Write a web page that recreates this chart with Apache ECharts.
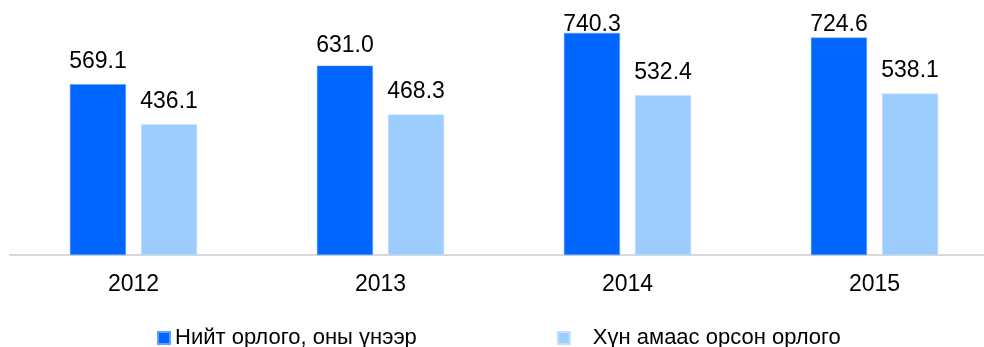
<!DOCTYPE html>
<html>
<head>
<meta charset="utf-8">
<script src="https://cdn.jsdelivr.net/npm/echarts@6/dist/echarts.min.js"></script>
<style>
  html, body { margin: 0; padding: 0; background: #fff; }
  #chart { width: 984px; height: 347px; }
</style>
</head>
<body>
<div id="chart"></div>
<script>
// Income per year (thousand tugrik)
const years = ['2012', '2013', '2014', '2015'];
const seriesNames = ['Нийт орлого, оны үнээр', 'Хүн амаас орсон орлого'];
const totalIncome = [569.1, 631.0, 740.3, 724.6];
const householdIncome = [436.1, 468.3, 532.4, 538.1];

const FONT = 'Liberation Sans, Arial, sans-serif';
const DARK = '#0066ff';
const LIGHT = '#9dcdff';

// labels of the taller bars sit closer to the bar top
const tightLabel = { 1: 9, 2: -3, 3: 1 };

function barData(values, tight) {
  return values.map((v, i) => {
    const item = { value: v };
    if (tight && tightLabel[i] !== undefined) {
      item.label = { distance: tightLabel[i] };
    }
    return item;
  });
}

const chart = echarts.init(document.getElementById('chart'), null, { renderer: 'canvas' });

chart.setOption({
  animation: false,
  backgroundColor: '#ffffff',
  textStyle: { fontFamily: FONT },
  // the plot runs a little past the right edge of the canvas
  grid: { left: 10, width: 988, top: 15, bottom: 92, containLabel: false, outerBoundsMode: 'none' },
  xAxis: {
    type: 'category',
    data: years,
    axisLine: { show: true, lineStyle: { color: '#d9d9d9', width: 2 } },
    axisTick: { show: false },
    axisLabel: { color: '#000', fontSize: 23, fontFamily: FONT, margin: 18 }
  },
  yAxis: {
    type: 'value',
    min: 0,
    max: 800,
    show: false,
    splitLine: { show: false }
  },
  legend: {
    bottom: -7,
    left: 152,
    itemWidth: 12,
    itemHeight: 12,
    itemGap: 140,
    icon: 'rect',
    textStyle: {
      color: '#000',
      fontSize: 22,
      fontFamily: FONT,
      rich: { p: { fontSize: 22, fontFamily: FONT, color: '#000', padding: [0, 0, 0, 18] } }
    },
    formatter: name => name === seriesNames[1] ? '{p|' + name + '}' : name,
    data: seriesNames
  },
  series: [
    {
      name: seriesNames[0],
      type: 'bar',
      data: barData(totalIncome, true),
      barWidth: 56,
      barGap: '27%',
      itemStyle: { color: DARK, borderColor: '#5fa0ff', borderWidth: 0.5 },
      label: {
        show: true,
        position: 'top',
        distance: 11,
        color: '#000',
        fontSize: 23,
        fontFamily: FONT,
        formatter: p => p.value.toFixed(1)
      }
    },
    {
      name: seriesNames[1],
      type: 'bar',
      data: barData(householdIncome, false),
      barWidth: 56,
      itemStyle: { color: LIGHT, borderColor: '#c4e0ff', borderWidth: 0.5 },
      label: {
        show: true,
        position: 'top',
        distance: 11,
        color: '#000',
        fontSize: 23,
        fontFamily: FONT,
        formatter: p => p.value.toFixed(1)
      }
    }
  ]
});
</script>
</body>
</html>
